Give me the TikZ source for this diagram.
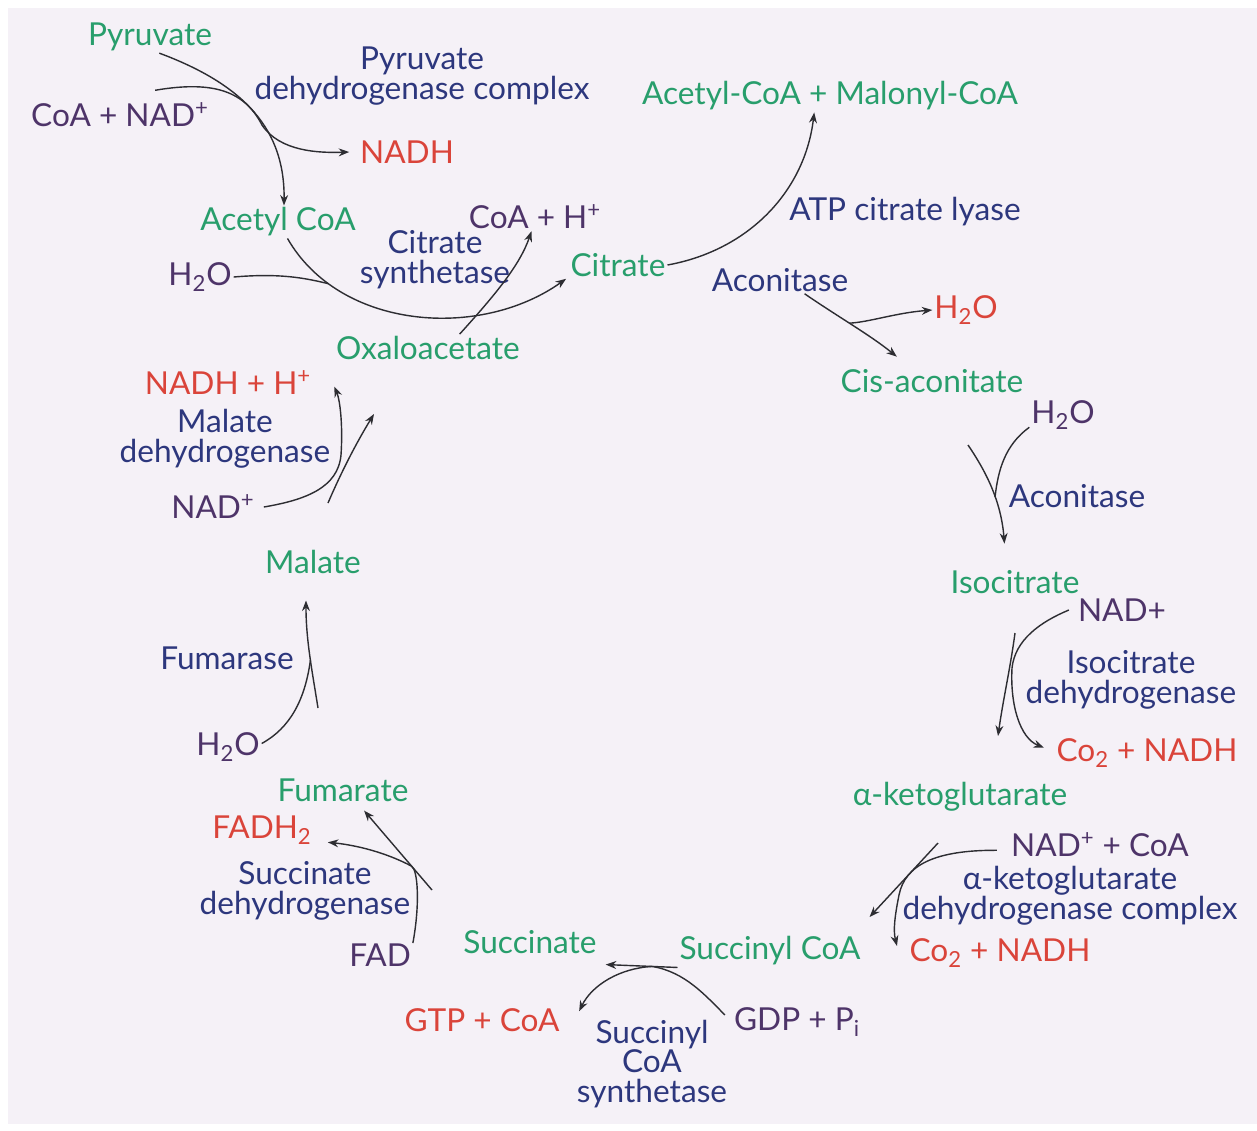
\documentclass[tikz,border=0pt]{standalone}
\usepackage{fontspec}
\setmainfont{Lato}
\usetikzlibrary{arrows.meta}
\definecolor{metgreen}{RGB}{40,158,108}
\definecolor{enzblue}{RGB}{45,55,125}
\definecolor{cofpurple}{RGB}{78,52,105}
\definecolor{prodred}{RGB}{218,68,58}
\definecolor{bgpaper}{RGB}{245,241,247}
\definecolor{linegray}{RGB}{45,45,50}
\tikzset{
  lbl/.style={inner sep=1pt, font=\fontsize{18}{17}\selectfont, align=center},
  met/.style={lbl, text=metgreen},
  enz/.style={lbl, text=enzblue},
  cof/.style={lbl, text=cofpurple},
  prod/.style={lbl, text=prodred},
  rx/.style={draw=linegray, line width=0.8pt},
  >={Stealth[length=6pt,width=4.5pt]}
}

\begin{document}
\begin{tikzpicture}[x=0.02cm, y=-0.02cm]
  \useasboundingbox (0,0) rectangle (1257,1130);
  \fill[white] (0,0) rectangle (1257,1130);
  \fill[bgpaper] (8,8) rectangle (1257,1124);
  %% Metabolites
  \node[met] (pyr)    at (150,37)  {Pyruvate};
  \node[met] (acoa)   at (278,222) {Acetyl CoA};
  \node[met] (cit)    at (618,265) {Citrate};
  \node[met] (oaa)    at (428,348) {Oxaloacetate};
  \node[met] (mal)    at (830,96)  {Acetyl-CoA + Malonyl-CoA};
  \node[met] (cisa)   at (932,381) {Cis-aconitate};
  \node[met] (iso)    at (1015,582) {Isocitrate};
  \node[met] (akg)    at (960,797) {α-ketoglutarate};
  \node[met] (succoa) at (770,951) {Succinyl CoA};
  \node[met] (succ)   at (530,942) {Succinate};
  \node[met] (fum)    at (343,790) {Fumarate};
  \node[met] (mala)   at (313,562) {Malate};
  %% Cofactors in
  \node[cof] (nad1)   at (120,115) {CoA + NAD\textsuperscript{+}};
  \node[cof] (h2o1)   at (200,277) {H\textsubscript{2}O};
  \node[cof] (coah)   at (535,217) {CoA + H\textsuperscript{+}};
  \node[cof] (h2o3)   at (1063,415) {H\textsubscript{2}O};
  \node[cof] (nadp2)  at (1122,610) {NAD+};
  \node[cof] (nadcoa) at (1100,845) {NAD\textsuperscript{+} + CoA};
  \node[cof] (gdp)    at (797,1022) {GDP + P\textsubscript{i}};
  \node[cof] (fad)    at (380,955) {FAD};
  \node[cof] (h2o4)   at (228,747) {H\textsubscript{2}O};
  \node[cof] (nadp3)  at (213,507) {NAD\textsuperscript{+}};
  %% Products out
  \node[prod] (nadh1) at (407,152) {NADH};
  \node[prod] (h2o2)  at (966,310) {H\textsubscript{2}O};
  \node[prod] (co2a)  at (1147,753) {Co\textsubscript{2} + NADH};
  \node[prod] (co2b)  at (1000,953) {Co\textsubscript{2} + NADH};
  \node[prod] (gtp)   at (482,1020) {GTP + CoA};
  \node[prod] (fadh)  at (262,830) {FADH\textsubscript{2}};
  \node[prod] (nadhh) at (228,383) {NADH + H\textsuperscript{+}};
  %% Enzymes
  \node[enz] (pdh)    at (422,76)  {Pyruvate\\dehydrogenase complex};
  \node[enz] (csyn)   at (435,260) {Citrate\\synthetase};
  \node[enz] (acl)    at (905,212) {ATP citrate lyase};
  \node[enz] (acon1)  at (780,280) {Aconitase};
  \node[enz] (acon2)  at (1077,496) {Aconitase};
  \node[enz] (idh)    at (1131,680) {Isocitrate\\dehydrogenase};
  \node[enz] (akgdh)  at (1070,896) {α-ketoglutarate\\dehydrogenase complex};
  \node[enz] (scs)    at (652,1064) {Succinyl\\CoA\\synthetase};
  \node[enz] (sdh)    at (305,891) {Succinate\\dehydrogenase};
  \node[enz] (fumase) at (227,658) {Fumarase};
  \node[enz] (mdh)    at (225,439) {Malate\\dehydrogenase};

  %% Pyruvate -> Acetyl CoA
  \draw[rx,->] (pyr.-60) .. controls (245,85) and (285,130) .. (acoa.70);
  \draw[rx,->] ([xshift=20pt,yshift=6pt]nad1.north) .. controls (215,80) and (245,92) .. (262,125)
    .. controls (280,152) and (320,153) .. ([xshift=-5pt]nadh1.west);
  %% Acetyl CoA -> Citrate
  \draw[rx,->] (acoa.-60) .. controls (340,330) and (480,340) .. ([xshift=-8pt]cit.200) coordinate[pos=0.2] (jw);
  \draw[rx] (h2o1.east) .. controls (280,273) and (305,278) .. (jw);
  \draw[rx,->] ([xshift=18pt]oaa.north) .. controls (495,295) and (520,265) .. ([xshift=-2pt]coah.south);
  %% Citrate -> Acetyl-CoA + Malonyl-CoA
  \draw[rx,->] (cit.east) .. controls (750,250) and (805,190) .. ([xshift=-9pt]mal.south);
  %% Citrate -> Cis-aconitate
  \draw[rx,->] ([xshift=14pt]acon1.south) .. controls (840,318) and (870,335)
    .. ([xshift=-20pt,yshift=6pt]cisa.north) coordinate[pos=0.45] (jh);
  \draw[rx,->] (jh) .. controls (870,322) and (895,313) .. (h2o2.west);
  %% Cis-aconitate -> Isocitrate
  \coordinate (cs) at (968,445);
  \draw[rx,->] (cs) .. controls (985,470) and (1001,500) .. ([xshift=-6pt,yshift=14pt]iso.north) coordinate[pos=0.6] (ji);
  \draw[rx] (h2o3.200) .. controls (1005,445) and (998,470) .. (ji);
  %% Isocitrate -> alpha-ketoglutarate
  \coordinate (is) at (1015,633);
  \coordinate (ie) at (998,736);
  \draw[rx,->] (is) .. controls (1010,670) and (1003,700) .. (ie);
  \draw[rx,->] ([xshift=-4pt]nadp2.west) .. controls (1040,622) and (1015,640) .. (1012,668)
    .. controls (1010,705) and (1020,738) .. ([xshift=-6pt,yshift=3pt]co2a.west);
  %% alpha-ketoglutarate -> Succinyl CoA
  \coordinate (ks) at (938,843);
  \draw[rx,->] (ks) -- ([xshift=4pt,yshift=10pt]succoa.north east);
  \draw[rx,->] ([xshift=-7pt,yshift=-3pt]nadcoa.west) .. controls (935,850) and (905,865) .. (899,895)
    .. controls (895,915) and (893,930) .. ([xshift=-6pt,yshift=4pt]co2b.west);
  %% Succinyl CoA -> Succinate
  \draw[rx,->] (succoa.south west) -- ([xshift=4pt,yshift=-5pt]succ.south east) coordinate[pos=0.35] (js);
  \draw[rx] ([xshift=-4pt,yshift=4pt]gdp.west) .. controls (705,995) and (685,972) .. (js);
  \draw[rx,->] (js) .. controls (620,968) and (592,985) .. ([xshift=10pt,yshift=5pt]gtp.east);
  %% Succinate -> Fumarate
  \coordinate (ss) at (432,890);
  \draw[rx,->] (ss) -- ([xshift=12pt,yshift=-4pt]fum.south) coordinate[pos=0.3] (jf);
  \draw[rx,->] (fad.20) .. controls (420,905) and (418,870) .. (jf)
    .. controls (385,852) and (355,845) .. ([xshift=8pt,yshift=-7pt]fadh.east);
  %% Fumarate -> Malate
  \coordinate (fs) at (318,708);
  \draw[rx,->] (fs) .. controls (312,670) and (306,640) .. ([xshift=-4pt,yshift=-14pt]mala.south) coordinate[pos=0.45] (jm);
  \draw[rx] ([yshift=2pt]h2o4.east) .. controls (290,728) and (305,700) .. (jm);
  %% Malate -> Oxaloacetate
  \coordinate (ms) at (328,503);
  \coordinate (me) at (374,414);
  \draw[rx,->] (ms) .. controls (340,475) and (355,445) .. (me);
  \draw[rx,->] ([xshift=4pt]nadp3.east) .. controls (305,500) and (338,488) .. (341,455)
    .. controls (343,425) and (340,400) .. ([xshift=12pt,yshift=-2pt]nadhh.east);
\end{tikzpicture}
\end{document}
